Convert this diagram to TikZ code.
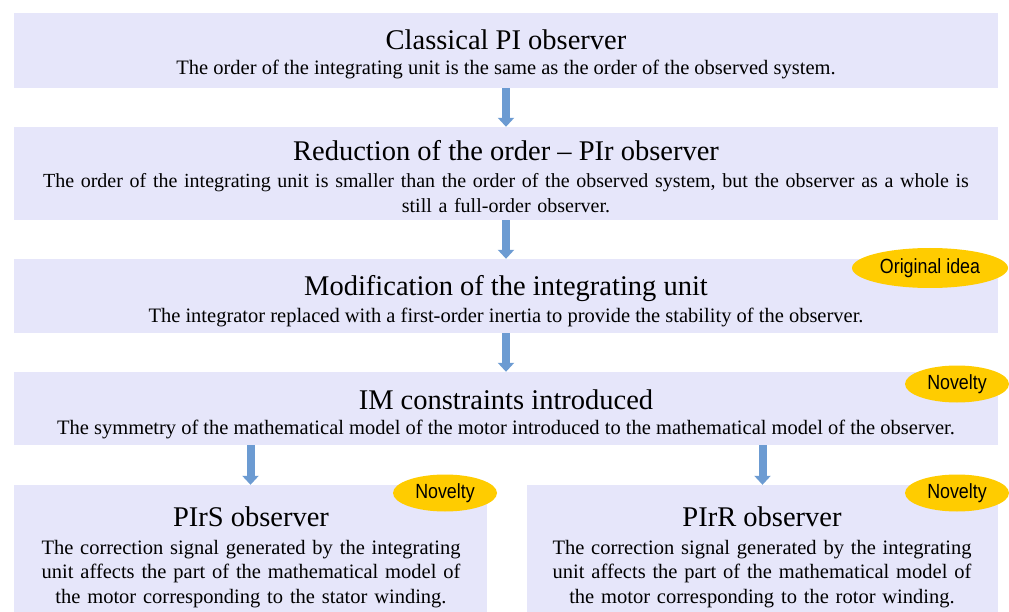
\documentclass[tikz,border=0pt]{standalone}
\usepackage{fontspec}
\setmainfont{Liberation Serif}
\newfontfamily\tagfont{Liberation Sans}
\usetikzlibrary{arrows.meta,shapes.geometric}
\pgfdeclarelayer{bg}
\pgfsetlayers{bg,main}
\definecolor{boxfill}{HTML}{E6E6FA}
\definecolor{arrowblue}{HTML}{6C9BD2}
\definecolor{tagyellow}{HTML}{FFCC00}
\newcommand{\headsize}{\fontsize{28.5}{32}\selectfont}
\newcommand{\textsize}{\fontsize{20.5}{24.5}\selectfont}
\newcommand{\tagtext}[1]{\scalebox{0.87}[1]{\tagfont\fontsize{20.5}{22}\selectfont #1}}
\tikzset{
    stage/.style={rectangle, fill=boxfill, inner sep=0pt, minimum width=984pt},
    head/.style={anchor=base, inner sep=0pt, font=\headsize},
    desc/.style={anchor=base, inner sep=0pt, font=\textsize, align=center},
    tag/.style={ellipse, fill=tagyellow, inner sep=0pt, minimum width=104pt, minimum height=37pt},
    flow/.style={draw=arrowblue, line width=8pt, -{Triangle[width=16pt,length=9pt,fill=arrowblue]}}
}
\begin{document}
\begin{tikzpicture}[x=1pt,y=-1pt]
        \useasboundingbox (0,0) rectangle (1009,612);
        \node (b1) [stage, minimum height=75pt] at (506,50.5) {};
        \node (b2) [stage, minimum height=93pt] at (506,173.5) {};
        \node (b3) [stage, minimum height=74pt] at (506,296) {};
        \node (b4) [stage, minimum height=73pt] at (506,408.5) {};
        \node (b5) [stage, minimum width=473pt, minimum height=127pt] at (250.5,548.5) {};
        \node (b6) [stage, minimum width=471pt, minimum height=127pt] at (762.5,548.5) {};
        \node (t1) [head] at (506,50) {Classical PI observer};
        \node (d1) [desc] at (506,75) {The order of the integrating unit is the same as the order of the observed system.};
        \node (t2) [head] at (506,161) {Reduction of the order -- PIr observer};
        \node (d2) [desc, text width=980pt, font=\fontsize{20}{24.5}\selectfont] at (506,188) {The order of the integrating unit is smaller than the order of the observed system, but the observer as a whole is\\ still a full-order observer.};
        \node (t3) [head] at (506,296) {Modification of the integrating unit};
        \node (d3) [desc] at (506,322) {The integrator replaced with a first-order inertia to provide the stability of the observer.};
        \node (t4) [head] at (506,409) {IM constraints introduced};
        \node (d4) [desc] at (506,434) {The symmetry of the mathematical model of the motor introduced to the mathematical model of the observer.};
        \node (t5) [head] at (251,526) {PIrS observer};
        \node (d5) [desc, text width=470pt] at (251,554) {The correction signal generated by the integrating\\ unit affects the part of the mathematical model of\\ the motor corresponding to the stator winding.};
        \node (t6) [head] at (762,526) {PIrR observer};
        \node (d6) [desc, text width=470pt] at (762,554) {The correction signal generated by the integrating\\ unit affects the part of the mathematical model of\\ the motor corresponding to the rotor winding.};
        \node (e1) [tag, minimum width=156pt, minimum height=40pt] at (930,268) {\tagtext{Original idea}};
        \node (e2) [tag] at (957,384) {\tagtext{Novelty}};
        \node (e3) [tag] at (445,493) {\tagtext{Novelty}};
        \node (e4) [tag] at (957,493) {\tagtext{Novelty}};
        \begin{pgfonlayer}{bg}
                \draw (b1) edge [flow] (b2);
                \draw (b2) edge [flow] (b3);
                \draw (b3) edge [flow] (b4);
                \draw [flow] (b4.south -| b5.north) -- (b5.north);
                \draw [flow] (b4.south -| b6.north) -- (b6.north);
        \end{pgfonlayer}
\end{tikzpicture}
\end{document}
